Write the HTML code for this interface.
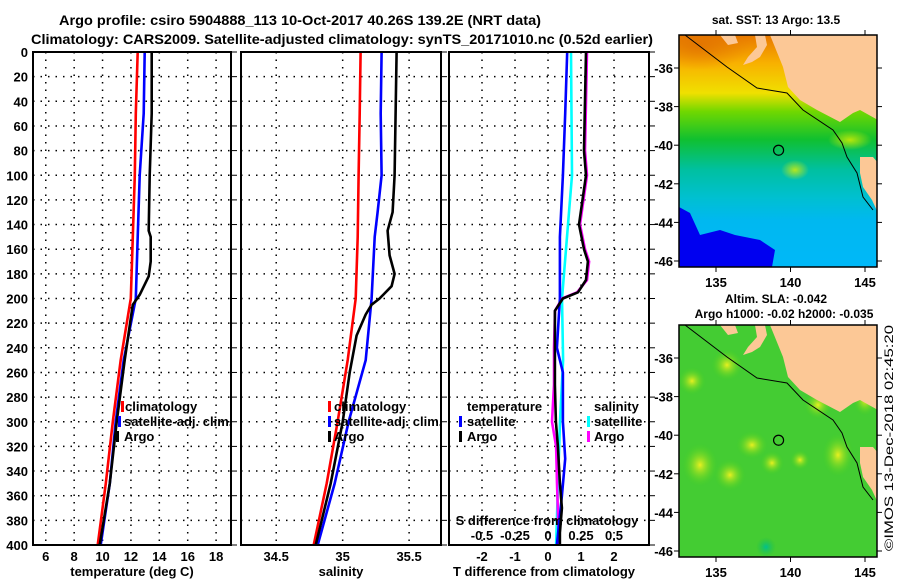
<!DOCTYPE html>
<html><head><meta charset="utf-8"><style>
html,body{margin:0;padding:0;background:#fff;}
svg{display:block;font-family:"Liberation Sans",sans-serif;font-weight:bold;}
</style></head><body>
<svg id="root" width="900" height="580" viewBox="0 0 900 580" xmlns="http://www.w3.org/2000/svg">
<defs>
<linearGradient id="sstGrad" x1="0" y1="0" x2="0" y2="1">
<stop offset="0" stop-color="#e87800"/>
<stop offset="0.12" stop-color="#f8b000"/>
<stop offset="0.25" stop-color="#f0e000"/>
<stop offset="0.33" stop-color="#70d800"/>
<stop offset="0.45" stop-color="#10c030"/>
<stop offset="0.58" stop-color="#00c0a0"/>
<stop offset="0.70" stop-color="#00c0d0"/>
<stop offset="0.80" stop-color="#00b8f0"/>
<stop offset="1" stop-color="#00b8f8"/>
</linearGradient>
<radialGradient id="yblob"><stop offset="0" stop-color="#e8f020"/><stop offset="1" stop-color="#40d020" stop-opacity="0"/></radialGradient>
<radialGradient id="yblob2"><stop offset="0" stop-color="#e0f000" stop-opacity="0.8"/><stop offset="1" stop-color="#e0f000" stop-opacity="0"/></radialGradient>
<radialGradient id="oblob"><stop offset="0" stop-color="#e07000" stop-opacity="0.8"/><stop offset="1" stop-color="#e07000" stop-opacity="0"/></radialGradient>
<radialGradient id="tblob"><stop offset="0" stop-color="#00c090"/><stop offset="1" stop-color="#20c040" stop-opacity="0"/></radialGradient>
</defs>
<text x="300" y="25" text-anchor="middle" font-size="14" textLength="482" lengthAdjust="spacingAndGlyphs">Argo profile: csiro 5904888_113 10-Oct-2017 40.26S 139.2E (NRT data)</text>
<text x="342" y="44" text-anchor="middle" font-size="14" textLength="622" lengthAdjust="spacingAndGlyphs">Climatology: CARS2009. Satellite-adjusted climatology: synTS_20171010.nc (0.52d earlier)</text>
<g id="panels"></g>
<g id="maps"></g>
<text transform="translate(893,438) rotate(-90)" text-anchor="middle" font-size="12" font-weight="normal" textLength="226" lengthAdjust="spacingAndGlyphs">©IMOS 13-Dec-2018 02:45:20</text>
</svg>
<script>
// ---- data ----
const tempClimDepth = [0,50,100,150,200,250,300,350,400];
const tempClim = [12.48,12.34,12.27,12.13,11.99,11.28,10.72,10.23,9.66];
const tempSatDepth = [0,50,100,150,200,250,300,350,400];
const tempSat = [12.97,12.90,12.62,12.48,12.34,11.49,10.93,10.51,9.87];
const tempArgoDepth = [0,50,100,145,150,170,182,197,205,216,250,300,350,400];
const tempArgo = [13.46,13.46,13.32,13.25,13.39,13.39,13.25,12.62,12.13,11.99,11.56,11.00,10.51,9.80];
const salClimDepth = [0,50,100,150,200,250,300,350,400];
const salClim = [35.135,35.128,35.120,35.113,35.098,35.038,34.962,34.880,34.782];
const salSatDepth = [0,50,100,130,150,200,250,300,350,400];
const salSat = [35.293,35.286,35.293,35.263,35.241,35.218,35.173,35.045,34.940,34.812];
const salArgoDepth = [0,50,100,130,145,165,180,190,200,205,213,230,260,300,350,400];
const salArgo = [35.406,35.398,35.391,35.376,35.338,35.353,35.391,35.368,35.278,35.218,35.173,35.105,35.053,35.000,34.910,34.797];
const dTSatDepth = [0,50,100,150,200,240,260,300,330,360,400];
const dTSat = [0.58,0.52,0.45,0.36,0.36,0.27,0.45,0.45,0.52,0.42,0.27];
const dTArgoDepth = [0,80,100,140,160,170,185,195,200,210,240,270,300,320,350,370,390,400];
const dTArgo = [1.15,1.09,1.15,0.94,1.09,1.21,1.15,0.91,0.45,0.21,0.21,0.21,0.24,0.30,0.36,0.42,0.36,0.36];
const dSSatDepth = [0,100,150,200,250,300,350,400];
const dSSat = [0.174,0.182,0.144,0.106,0.114,0.091,0.076,0.061];
const dSArgoDepth = [0,80,100,140,160,170,185,195,200,210,240,270,300,320,350,400];
const dSArgo = [0.295,0.280,0.295,0.242,0.280,0.311,0.295,0.220,0.106,0.053,0.045,0.045,0.030,0.061,0.068,0.083];
const depthTicks = [0,20,40,60,80,100,120,140,160,180,200,220,240,260,280,300,320,340,360,380,400];
const tempTicks = [6,8,10,12,14,16,18];
const salTicks = [34.5,35,35.5];
const dTTicks = [-2,-1,0,1,2];
const dSTicks = [-0.5,-0.25,0,0.25,0.5];
const dSTickLabels = ["-0.5","-0.25","0","0.25","0.5"];

const NS='http://www.w3.org/2000/svg';
const TOP=52, BOT=545;
function yD(d){return TOP+(d/400)*(BOT-TOP);}
function mk(tag,attrs,parent){const e=document.createElementNS(NS,tag);for(const k in attrs)e.setAttribute(k,attrs[k]);parent.appendChild(e);return e;}
const panels=document.getElementById('panels');

function makePanel(name,x0,x1,dmin,dmax){
  const g=mk('g',{},panels);
  
  
  const sx=v=>x0+(v-dmin)/(dmax-dmin)*(x1-x0);
  return {g,sx,x0,x1};
}
function grid(p,ticks){
  depthTicks.forEach(d=>{
    const l=mk('line',{x1:p.x0,x2:p.x1,y1:yD(d),y2:yD(d),stroke:'#000','stroke-width':1.5,'stroke-dasharray':'1.5,6'},p.g);
    
    
    const t=mk('line',{x1:p.x1,x2:p.x1+6,y1:yD(d),y2:yD(d),stroke:'#000','stroke-width':1},p.g);
    
    
  });
  ticks.forEach(v=>{
    const l=mk('line',{x1:p.sx(v),x2:p.sx(v),y1:TOP,y2:BOT,stroke:'#000','stroke-width':1.5,'stroke-dasharray':'1.5,6'},p.g);
    
    
  });
}
function xLabels(p,ticks,labels,y){
  ticks.forEach((v,i)=>{
    const t=mk('text',{x:p.sx(v),y:y,'text-anchor':'middle','font-size':13},p.g);
    t.textContent=labels?labels[i]:String(v);
    
    
  });
}
function frame(p){
  const r=mk('rect',{x:p.x0,y:TOP,width:p.x1-p.x0,height:BOT-TOP,fill:'none',stroke:'#000','stroke-width':2},p.g);
  
  
}
function line(p,sx,depths,vals,color,name){
  const pts=depths.map((d,i)=>sx(vals[i]).toFixed(1)+','+yD(d).toFixed(1)).join(' ');
  const l=mk('polyline',{points:pts,fill:'none',stroke:color,'stroke-width':2.6,'stroke-linejoin':'round'},p.g);
  
  
}
function label(p,x,y,txt,name,size,anchor){
  const t=mk('text',{x:x,y:y,'font-size':size||13,'text-anchor':anchor||'start'},p.g);
  t.textContent=txt;
  
  
  return t;
}
function legendMark(p,x,y,color){
  const r=mk('rect',{x:x,y:y-10,width:3,height:11,fill:color},p.g);
  
  
}

// panel 1 temperature
const p1=makePanel('temperature-panel',33,231,5.1,19.05);
grid(p1,tempTicks);
depthTicks.forEach(d=>{
  const t=mk('text',{x:28,y:yD(d)+5,'text-anchor':'end','font-size':13},p1.g);
  t.textContent=String(d);
  
  
});
line(p1,p1.sx,tempClimDepth,tempClim,'#ff0000','temp-climatology-line');
line(p1,p1.sx,tempSatDepth,tempSat,'#0000ff','temp-satellite-line');
line(p1,p1.sx,tempArgoDepth,tempArgo,'#000000','temp-argo-line');
frame(p1);
xLabels(p1,tempTicks,null,561);
label(p1,132,576,'temperature (deg C)','temperature-axis-title',13,'middle');
legendMark(p1,121,411,'#ff0000');label(p1,125,411,'climatology','legend-climatology');
legendMark(p1,118,426,'#0000ff');label(p1,124,426,'satellite-adj. clim.','legend-satellite');
legendMark(p1,116,441,'#000000');label(p1,124,441,'Argo','legend-argo');

// panel 2 salinity
const p2=makePanel('salinity-panel',241,441,34.235,35.74);
grid(p2,salTicks);
line(p2,p2.sx,salClimDepth,salClim,'#ff0000','sal-climatology-line');
line(p2,p2.sx,salSatDepth,salSat,'#0000ff','sal-satellite-line');
line(p2,p2.sx,salArgoDepth,salArgo,'#000000','sal-argo-line');
frame(p2);
xLabels(p2,salTicks,null,561);
label(p2,341,576,'salinity','salinity-axis-title',13,'middle');
legendMark(p2,328,411,'#ff0000');label(p2,334,411,'climatology','legend-climatology');
legendMark(p2,328,426,'#0000ff');label(p2,334,426,'satellite-adj. clim.','legend-satellite');
legendMark(p2,328,441,'#000000');label(p2,334,441,'Argo','legend-argo');

// panel 3 differences
const p3=makePanel('difference-panel',449,649,-3.0,3.06);
const sxS=v=>p3.sx(v*4);
grid(p3,dTTicks);
line(p3,sxS,dSSatDepth,dSSat,'#00ffff','dS-satellite-line');
line(p3,sxS,dSArgoDepth,dSArgo,'#ff00ff','dS-argo-line');
line(p3,p3.sx,dTSatDepth,dTSat,'#0000ff','dT-satellite-line');
line(p3,p3.sx,dTArgoDepth,dTArgo,'#000000','dT-argo-line');
frame(p3);
xLabels(p3,dTTicks,null,561);
label(p3,544,576,'T difference from climatology','dT-axis-title',13,'middle');
label(p3,547,525,'S difference from climatology','dS-axis-title',13,'middle');
dSTicks.forEach((v,i)=>{
  const t=mk('text',{x:sxS(v),y:540,'text-anchor':'middle','font-size':13},p3.g);
  t.textContent=dSTickLabels[i];
  
  
});
label(p3,467,411,'temperature','legend-temperature-heading');
legendMark(p3,459,426,'#0000ff');label(p3,467,426,'satellite','legend-t-satellite');
legendMark(p3,459,441,'#000000');label(p3,467,441,'Argo','legend-t-argo');
label(p3,594,411,'salinity','legend-salinity-heading');
legendMark(p3,587,426,'#00ffff');label(p3,594,426,'satellite','legend-s-satellite');
legendMark(p3,587,441,'#ff00ff');label(p3,594,441,'Argo','legend-s-argo');

// ---- maps ----
const maps=document.getElementById('maps');
const mapLatTicks=[-36,-38,-40,-42,-44,-46];
const mapLonTicks=[135,140,145];
function drawMap(name,top,bottom,kind,title1,title2){
  const g=mk('g',{},maps);
  
  
  const L=679,R=877;
  const lon=v=>716+(v-135)*14.9;
  const lat=v=>top+33+(-36-v)*19.3;
  const cp=mk('clipPath',{id:'clip-'+name},g);
  mk('rect',{x:L,y:top,width:R-L,height:bottom-top},cp);
  const inner=mk('g',{'clip-path':'url(#clip-'+name+')'},g);
  if(kind==='sst'){
    mk('rect',{x:L,y:top,width:R-L,height:bottom-top,fill:'url(#sstGrad)'},inner);
    mk('ellipse',{cx:700,cy:top+10,rx:50,ry:25,fill:'url(#oblob)'},inner);
    mk('path',{d:`M${L},${top+172} L690,${top+178} L700,${top+200} L720,${top+195} L735,${top+200} L760,${top+205} L775,${top+215} L772,${top+232} L${L},${top+232} Z`,fill:'#0000f0'},inner);
    mk('ellipse',{cx:795,cy:top+135,rx:14,ry:10,fill:'url(#yblob2)'},inner);
    mk('ellipse',{cx:850,cy:top+105,rx:22,ry:10,fill:'url(#yblob2)'},inner);
  } else {
    mk('rect',{x:L,y:top,width:R-L,height:bottom-top,fill:'#44cc33'},inner);
    [[727,40,16,16],[692,56,14,14],[818,80,14,14],[838,130,16,22],[700,140,18,22],[752,120,16,14],[772,138,12,12],[865,75,12,16],[730,150,16,16],[800,135,10,10]].forEach(b=>{
      const e=mk('ellipse',{cx:b[0],cy:top+b[1],rx:b[2],ry:b[3],fill:'url(#yblob)'},inner);
      
      
    });
    mk('ellipse',{cx:766,cy:top+222,rx:10,ry:10,fill:'url(#tblob)'},inner);
  }
  const land=mk('path',{d:`M770,${top} L783,${top+32} L788,${top+52} L800,${top+65} L817,${top+75} L840,${top+87} L853,${top+78} L860,${top+75} L878,${top+85} L878,${top} Z
   M860,${top+122} L873,${top+122} L878,${top+128} L878,${top+178} L872,${top+165} L863,${top+152} L860,${top+138} Z
   M743,${top+30} L752,${top+27} L760,${top+22} L767,${top+10} L765,${top} L755,${top} L757,${top+12} L748,${top+22} Z
   M720,${top} L735,${top} L738,${top+8} L728,${top+10} Z`,fill:'#fcc896'},inner);
  
  
  mk('polyline',{points:`685,${top} 727,${top+32} 757,${top+53} 787,${top+58} 803,${top+75} 833,${top+95} 842,${top+108} 847,${top+122} 857,${top+138} 863,${top+162} 873,${top+175}`,fill:'none',stroke:'#000','stroke-width':1},inner);
  const c=mk('circle',{cx:lon(139.2),cy:lat(-40.26),r:5,fill:'none',stroke:'#000','stroke-width':1.2},g);
  
  
  mk('rect',{x:L,y:top,width:R-L,height:bottom-top,fill:'none',stroke:'#000','stroke-width':1.5},g);
  mapLatTicks.forEach(v=>{
    mk('line',{x1:L-5,x2:L,y1:lat(v),y2:lat(v),stroke:'#000'},g);
    mk('line',{x1:R,x2:R+5,y1:lat(v),y2:lat(v),stroke:'#000'},g);
    const t=mk('text',{x:L-6,y:lat(v)+5,'text-anchor':'end','font-size':13},g);
    t.textContent=String(v);
    
    
  });
  mapLonTicks.forEach(v=>{
    mk('line',{x1:lon(v),x2:lon(v),y1:top-5,y2:top,stroke:'#000'},g);
    mk('line',{x1:lon(v),x2:lon(v),y1:bottom,y2:bottom+5,stroke:'#000'},g);
    const t=mk('text',{x:lon(v),y:bottom+20,'text-anchor':'middle','font-size':13},g);
    t.textContent=String(v);
    
    
  });
  const t1=mk('text',{x:776,y:title2?top-22:top-11,'text-anchor':'middle','font-size':12},g);
  t1.textContent=title1;
  
  
  if(title2){
    const t2=mk('text',{x:784,y:top-7,'text-anchor':'middle','font-size':12},g);
    t2.textContent=title2;
    
    
  }
}
drawMap('sst-map',35,267,'sst','sat. SST: 13 Argo: 13.5');
drawMap('sla-map',325,557,'sla','Altim. SLA: -0.042','Argo h1000: -0.02 h2000: -0.035');
</script>
</body></html>
